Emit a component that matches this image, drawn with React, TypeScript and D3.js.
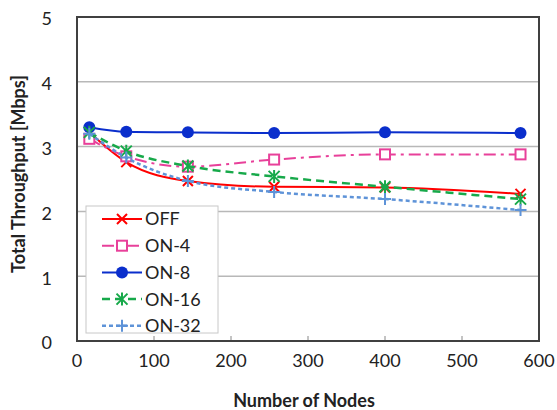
import React, { useEffect, useRef } from "react";
import * as d3 from "d3";

// node counts on the x axis
const nodes = [16, 64, 144, 256, 400, 576];

const offVals = [3.22, 2.76, 2.47, 2.38, 2.37, 2.27];
const on4Vals = [3.12, 2.85, 2.69, 2.8, 2.88, 2.88];
const on8Vals = [3.3, 3.23, 3.22, 3.21, 3.22, 3.21];
const on16Vals = [3.22, 2.93, 2.7, 2.54, 2.38, 2.19];
const on32Vals = [3.2, 2.83, 2.47, 2.3, 2.19, 2.02];

const xTicks = [0, 100, 200, 300, 400, 500, 600];
const yTicks = [0, 1, 2, 3, 4, 5];

const seriesNames = ["OFF", "ON-4", "ON-8", "ON-16", "ON-32"];

const FONT = "Lato, 'Open Sans', sans-serif";

export default function App() {
  const ref = useRef<SVGSVGElement>(null);

  useEffect(() => {
    const svg = d3.select(ref.current);
    svg.selectAll("*").remove();

    const left = 77;
    const right = 539;
    const top = 17;
    const bottom = 341;

    const x = d3.scaleLinear().domain([0, 600]).range([left, right]);
    const y = d3.scaleLinear().domain([0, 5]).range([bottom, top]);

    const series = [
      { name: seriesNames[0], vals: offVals, color: "#ff0000", dash: "", marker: "x", width: 2 },
      { name: seriesNames[1], vals: on4Vals, color: "#e8409a", dash: "12 5 3 5", marker: "square", width: 2 },
      { name: seriesNames[2], vals: on8Vals, color: "#0a2ecc", dash: "", marker: "circle", width: 2 },
      { name: seriesNames[3], vals: on16Vals, color: "#17a94a", dash: "8 5", marker: "star", width: 2.5 },
      { name: seriesNames[4], vals: on32Vals, color: "#5e93d8", dash: "4 3", marker: "plus", width: 2.5 },
    ];

    svg.append("rect").attr("width", 557).attr("height", 410).attr("fill", "#ffffff");

    // gridlines
    svg
      .append("g")
      .selectAll("line")
      .data(yTicks.filter((t) => t > 0 && t < 5))
      .enter()
      .append("line")
      .attr("x1", left)
      .attr("x2", right)
      .attr("y1", (d) => y(d))
      .attr("y2", (d) => y(d))
      .attr("stroke", "#b8b8b8")
      .attr("stroke-width", 1.5);

    // x ticks (inside, small)
    svg
      .append("g")
      .selectAll("line")
      .data(xTicks.slice(1, -1))
      .enter()
      .append("line")
      .attr("x1", (d) => x(d))
      .attr("x2", (d) => x(d))
      .attr("y1", bottom)
      .attr("y2", bottom - 5)
      .attr("stroke", "#888")
      .attr("stroke-width", 1);

    // plot border
    svg
      .append("rect")
      .attr("x", left)
      .attr("y", top)
      .attr("width", right - left)
      .attr("height", bottom - top)
      .attr("fill", "none")
      .attr("stroke", "#404040")
      .attr("stroke-width", 2);

    // tick labels
    svg
      .append("g")
      .selectAll("text")
      .data(yTicks)
      .enter()
      .append("text")
      .attr("x", 52)
      .attr("y", (d) => y(d) + 2)
      .attr("dy", "0.35em")
      .attr("text-anchor", "end")
      .attr("font-family", FONT)
      .attr("font-size", 18)
      .attr("fill", "#222")
      .text((d) => d);

    svg
      .append("g")
      .selectAll("text")
      .data(xTicks)
      .enter()
      .append("text")
      .attr("x", (d) => x(d))
      .attr("y", 367)
      .attr("text-anchor", "middle")
      .attr("font-family", FONT)
      .attr("font-size", 18)
      .attr("fill", "#222")
      .text((d) => d);

    svg
      .append("text")
      .attr("x", 304)
      .attr("y", 407)
      .attr("text-anchor", "middle")
      .attr("font-family", FONT)
      .attr("font-weight", "bold")
      .attr("font-size", 18)
      .attr("fill", "#222")
      .text("Number of Nodes");

    svg
      .append("text")
      .attr("transform", "translate(25,174) rotate(-90)")
      .attr("text-anchor", "middle")
      .attr("font-family", FONT)
      .attr("font-weight", "bold")
      .attr("font-size", 18)
      .attr("fill", "#222")
      .text("Total Throughput [Mbps]");

    const drawMarker = (g: any, kind: string, cx: number, cy: number, color: string) => {
      if (kind === "circle") {
        g.append("circle").attr("cx", cx).attr("cy", cy).attr("r", 6).attr("fill", color);
      } else if (kind === "square") {
        g.append("rect")
          .attr("x", cx - 5)
          .attr("y", cy - 5)
          .attr("width", 10)
          .attr("height", 10)
          .attr("fill", "#fff")
          .attr("stroke", color)
          .attr("stroke-width", 2);
      } else if (kind === "x") {
        const s = 5;
        g.append("path")
          .attr("d", `M${cx - s},${cy - s}L${cx + s},${cy + s}M${cx - s},${cy + s}L${cx + s},${cy - s}`)
          .attr("stroke", color)
          .attr("stroke-width", 2);
      } else if (kind === "plus") {
        const s = 6;
        g.append("path")
          .attr("d", `M${cx - s},${cy}L${cx + s},${cy}M${cx},${cy - s}L${cx},${cy + s}`)
          .attr("stroke", color)
          .attr("stroke-width", 2);
      } else if (kind === "star") {
        const s = 5.5;
        g.append("path")
          .attr(
            "d",
            `M${cx - s},${cy - s}L${cx + s},${cy + s}M${cx - s},${cy + s}L${cx + s},${cy - s}M${cx},${cy - s - 1}L${cx},${cy + s + 1}`
          )
          .attr("stroke", color)
          .attr("stroke-width", 2);
      }
    };

    const line = d3
      .line<number>()
      .x((d, i) => x(nodes[i]))
      .y((d) => y(d))
      .curve(d3.curveMonotoneX);

    series.forEach((s) => {
      const g = svg.append("g");
      g.append("path")
        .attr("d", line(s.vals))
        .attr("fill", "none")
        .attr("stroke", s.color)
        .attr("stroke-width", s.width)
        .attr("stroke-dasharray", s.dash);
      s.vals.forEach((v, i) => drawMarker(g, s.marker, x(nodes[i]), y(v), s.color));
    });

    // legend
    const lg = svg.append("g");
    lg.append("rect")
      .attr("x", 86)
      .attr("y", 206)
      .attr("width", 132)
      .attr("height", 127)
      .attr("fill", "#fff")
      .attr("stroke", "#c8c8c8")
      .attr("stroke-width", 1);
    series.forEach((s, i) => {
      const cy = 219 + i * 26.7;
      lg.append("line")
        .attr("x1", 102)
        .attr("x2", 142)
        .attr("y1", cy)
        .attr("y2", cy)
        .attr("stroke", s.color)
        .attr("stroke-width", s.width)
        .attr("stroke-dasharray", s.dash);
      drawMarker(lg, s.marker, 122, cy, s.color);
      lg.append("text")
        .attr("x", 145)
        .attr("y", cy)
        .attr("dy", "0.36em")
        .attr("font-family", FONT)
        .attr("font-size", 18)
        .attr("fill", "#222")
        .text(s.name);
    });
  }, []);

  return (
    <svg
      ref={ref}
      width={557}
      height={410}
      style={{ position: "absolute", left: 0, top: 0 }}
    />
  );
}
